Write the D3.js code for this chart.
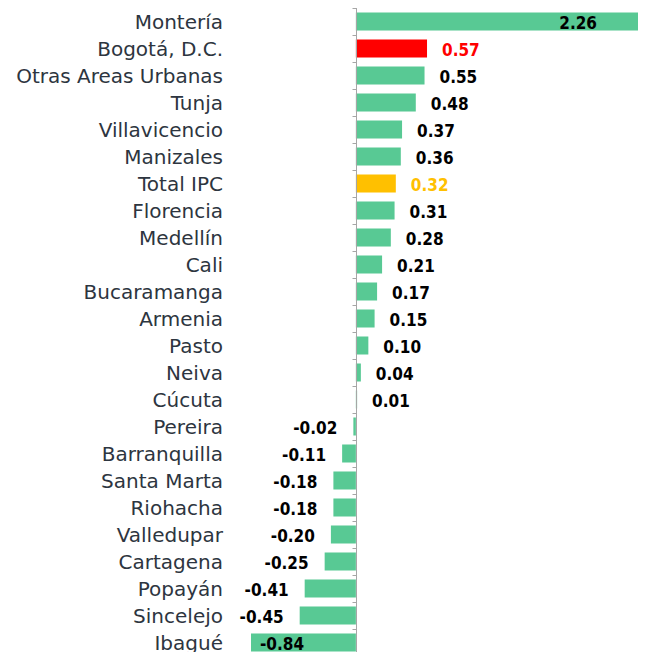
<!DOCTYPE html>
<html>
<head>
<meta charset="utf-8">
<script src="https://cdn.jsdelivr.net/npm/d3@7"></script>
<style>
  html, body { margin: 0; padding: 0; background: #fff; }
  svg { display: block; }
</style>
</head>
<body>
<svg id="chart" width="646" height="652"></svg>
<script>
// =========================
// DADES
// =========================
const ciutats = [
  "Montería", "Bogotá, D.C.", "Otras Areas Urbanas", "Tunja", "Villavicencio",
  "Manizales", "Total IPC", "Florencia", "Medellín", "Cali", "Bucaramanga",
  "Armenia", "Pasto", "Neiva", "Cúcuta", "Pereira", "Barranquilla",
  "Santa Marta", "Riohacha", "Valledupar", "Cartagena", "Popayán",
  "Sincelejo", "Ibagué"
];
const variacions = [
  2.26, 0.57, 0.55, 0.48, 0.37, 0.36, 0.32, 0.31, 0.28, 0.21, 0.17,
  0.15, 0.10, 0.04, 0.01, -0.02, -0.11, -0.18, -0.18, -0.20, -0.25,
  -0.41, -0.45, -0.84
];
const destacats = { "Bogotá, D.C.": "#ff0000", "Total IPC": "#ffc000" };

const data = ciutats.map((c, i) => ({ ciutat: c, valor: variacions[i] }));

// =========================
// ESCALES
// =========================
const svg = d3.select("#chart");

const x = d3.scaleLinear()
  .domain([d3.min(variacions), d3.max(variacions)])
  .range([251, 638]);

const y = d3.scaleBand()
  .domain(ciutats)
  .range([8, 8 + 27 * ciutats.length])
  .paddingInner(0.333)
  .paddingOuter(0.1667);

const colorBarra = d => destacats[d.ciutat] || "#58c994";
const colorText = d => destacats[d.ciutat] || "#000";

// =========================
// BARRES
// =========================
svg.append("g")
  .selectAll("rect")
  .data(data)
  .join("rect")
  .attr("x", d => x(Math.min(0, d.valor)))
  .attr("y", d => y(d.ciutat))
  .attr("width", d => Math.abs(x(d.valor) - x(0)))
  .attr("height", y.bandwidth())
  .attr("fill", colorBarra);

// =========================
// EIX (línia del zero amb ticks entre categories)
// =========================
const eix = svg.append("g").attr("stroke", "#a6a6a6").attr("stroke-width", 1);
const x0 = Math.round(x(0)) + 0.5;
eix.append("line")
  .attr("x1", x0).attr("x2", x0)
  .attr("y1", y.range()[0]).attr("y2", y.range()[1]);
eix.selectAll(".tick")
  .data(d3.range(ciutats.length + 1))
  .join("line")
  .attr("class", "tick")
  .attr("x1", x0 - 4).attr("x2", x0)
  .attr("y1", i => Math.round(y.range()[0] + i * y.step()) + 0.5)
  .attr("y2", i => Math.round(y.range()[0] + i * y.step()) + 0.5);

// =========================
// ETIQUETES CATEGORIA
// =========================
svg.append("g")
  .selectAll("text")
  .data(data)
  .join("text")
  .attr("x", 223)
  .attr("y", d => y(d.ciutat) + y.bandwidth() / 2)
  .attr("dy", "0.36em")
  .attr("text-anchor", "end")
  .text(d => d.ciutat)
  .style("font-family", "'DejaVu Sans', sans-serif")
  .style("font-size", "20px")
  .style("fill", "#2d3540");

// =========================
// ETIQUETES VALOR
// =========================
function posValor(d) {
  if (d.ciutat === "Montería") return { x: x(d.valor) - 41, anchor: "end" };
  if (d.ciutat === "Ibagué") return { x: x(d.valor) + 9, anchor: "start" };
  if (d.valor >= 0) return { x: x(d.valor) + 15, anchor: "start" };
  return { x: x(d.valor) - 16, anchor: "end" };
}

svg.append("g")
  .selectAll("text")
  .data(data)
  .join("text")
  .attr("x", d => posValor(d).x)
  .attr("y", d => y(d.ciutat) + y.bandwidth() / 2 + 1.5)
  .attr("dy", "0.36em")
  .attr("text-anchor", d => posValor(d).anchor)
  .text(d => d.valor.toFixed(2))
  .style("font-family", "'DejaVu Sans Condensed', 'DejaVu Sans', sans-serif")
  .style("font-size", "17px")
  .style("font-weight", "bold")
  .style("fill", colorText);
</script>
</body>
</html>
